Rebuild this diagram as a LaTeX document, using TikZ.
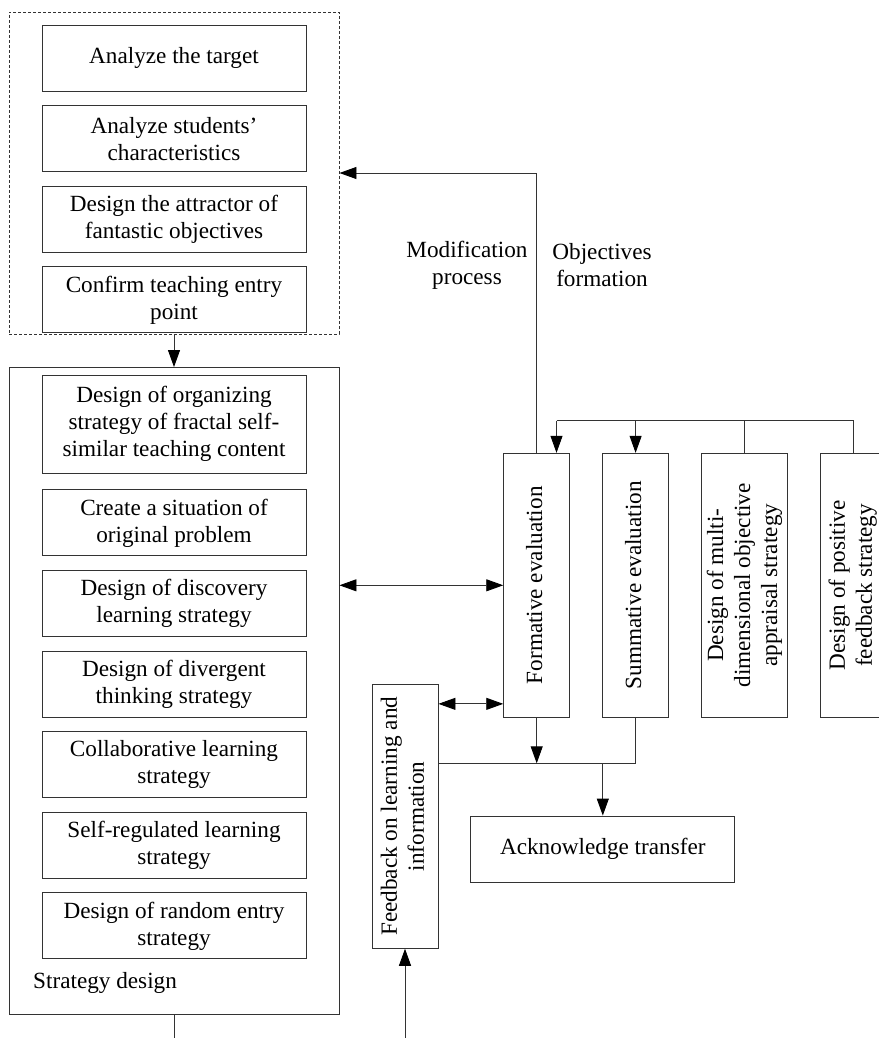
\documentclass[tikz,border=0pt]{standalone}
\usepackage{fontspec}
\setmainfont{Liberation Serif}
\usetikzlibrary{positioning,arrows.meta}
\newcommand{\vtext}[1]{\rotatebox{90}{\begin{tabular}{@{}c@{}}#1\end{tabular}}}

\begin{document}
\begin{tikzpicture}[x=1pt, y=-1pt,
      node distance=13.7pt,
      every node/.style={font=\fontsize{23.2}{27}\selectfont, align=center},
      line/.style={draw=black!80, line width=0.9pt},
      box/.style={line, minimum width=264pt, minimum height=66pt, inner sep=2pt},
      tallbox/.style={box, minimum width=66pt, minimum height=264pt},
      groupbox/.style={line, minimum width=330pt, inner sep=0pt},
      tip/.tip={Triangle[length=17pt,width=12pt,color=black]},
      arr/.style={line, -tip},
      darr/.style={line, tip-tip},]
      \useasboundingbox (0,0) rectangle (878,1038);
      % goals
      \node[box] (target) at (174,58) {Analyze the target};
      \node[box, below=of target] (students) {Analyze students'\\characteristics};
      \node[box, below=of students] (attractor) {Design the attractor of\\fantastic objectives};
      \node[box, below=of attractor] (entry) {Confirm teaching entry\\point};
      \node[groupbox, dash pattern=on 3pt off 2pt, minimum height=322pt] (goalgroup) at (174,173) {};
      % strategies
      \node[groupbox, minimum height=647pt] (strategy) at (174,691) {};
      \node[box, minimum height=98pt] (organize) at (174,424) {Design of organizing\\strategy of fractal self-\\similar teaching content};
      \node[box, below=16pt of organize] (situation) {Create a situation of\\original problem};
      \node[box, below=of situation] (discovery) {Design of discovery\\learning strategy};
      \node[box, below=of discovery] (divergent) {Design of divergent\\thinking strategy};
      \node[box, below=of divergent] (collab) {Collaborative learning\\strategy};
      \node[box, below=of collab] (selfreg) {Self-regulated learning\\strategy};
      \node[box, below=of selfreg] (random) {Design of random entry\\strategy};
      \node[anchor=west, inner sep=0pt] (strategylabel) at (33,983) {Strategy design};
      % evaluation
      \node[tallbox] (formative) at (536.7,585.3) {\vtext{Formative evaluation}};
      \node[tallbox] (summative) at (635.6,585.3) {\vtext{Summative evaluation}};
      \node[tallbox, minimum width=86pt] (multi) at (744.7,585.3) {\vtext{Design of multi-\\dimensional objective\\appraisal strategy}};
      \node[tallbox] (positive) at (853,585.3) {\vtext{Design of positive\\feedback strategy}};
      \node[tallbox] (feedback) at (405,816.3) {\vtext{Feedback on learning and\\information}};
      \node[box] (transfer) at (602.8,849) {Acknowledge transfer};
      \node (modlabel) at (467,265.5) {Modification\\process};
      \node (objlabel) at (602,265.5) {Objectives\\formation};
      % connectors
      \coordinate (fork) at (556.5,420.7);
      \draw[line] (positive.north) |- (fork);
      \draw[line] (multi.north) -- (multi.north |- fork);
      \draw[arr] (fork) -- (fork |- formative.north);
      \draw[arr] (summative.north |- fork) -- (summative.north);
      \draw[arr] (formative.north) |- (goalgroup.east);
      \draw[arr] (goalgroup.south) -- (strategy.north);
      \draw[darr] (formative.west) -- (formative.west -| strategy.east);
      \coordinate (fbport) at ([yshift=-20pt]feedback.north east);
      \draw[darr] (fbport) -- (fbport -| formative.west);
      \coordinate (merge) at (602.8,763.3);
      \draw[line] (merge -| feedback.east) -| (summative.south);
      \draw[arr] (formative.south) -- (formative.south |- merge);
      \draw[arr] (merge) -- (transfer.north);
      \coordinate (fbin) at (405,1038);
      \draw[arr] (fbin) -- (feedback.south);
      \coordinate (strategyout) at (174,1038);
      \draw[line] (strategy.south) -- (strategyout);
    \end{tikzpicture}
\end{document}
